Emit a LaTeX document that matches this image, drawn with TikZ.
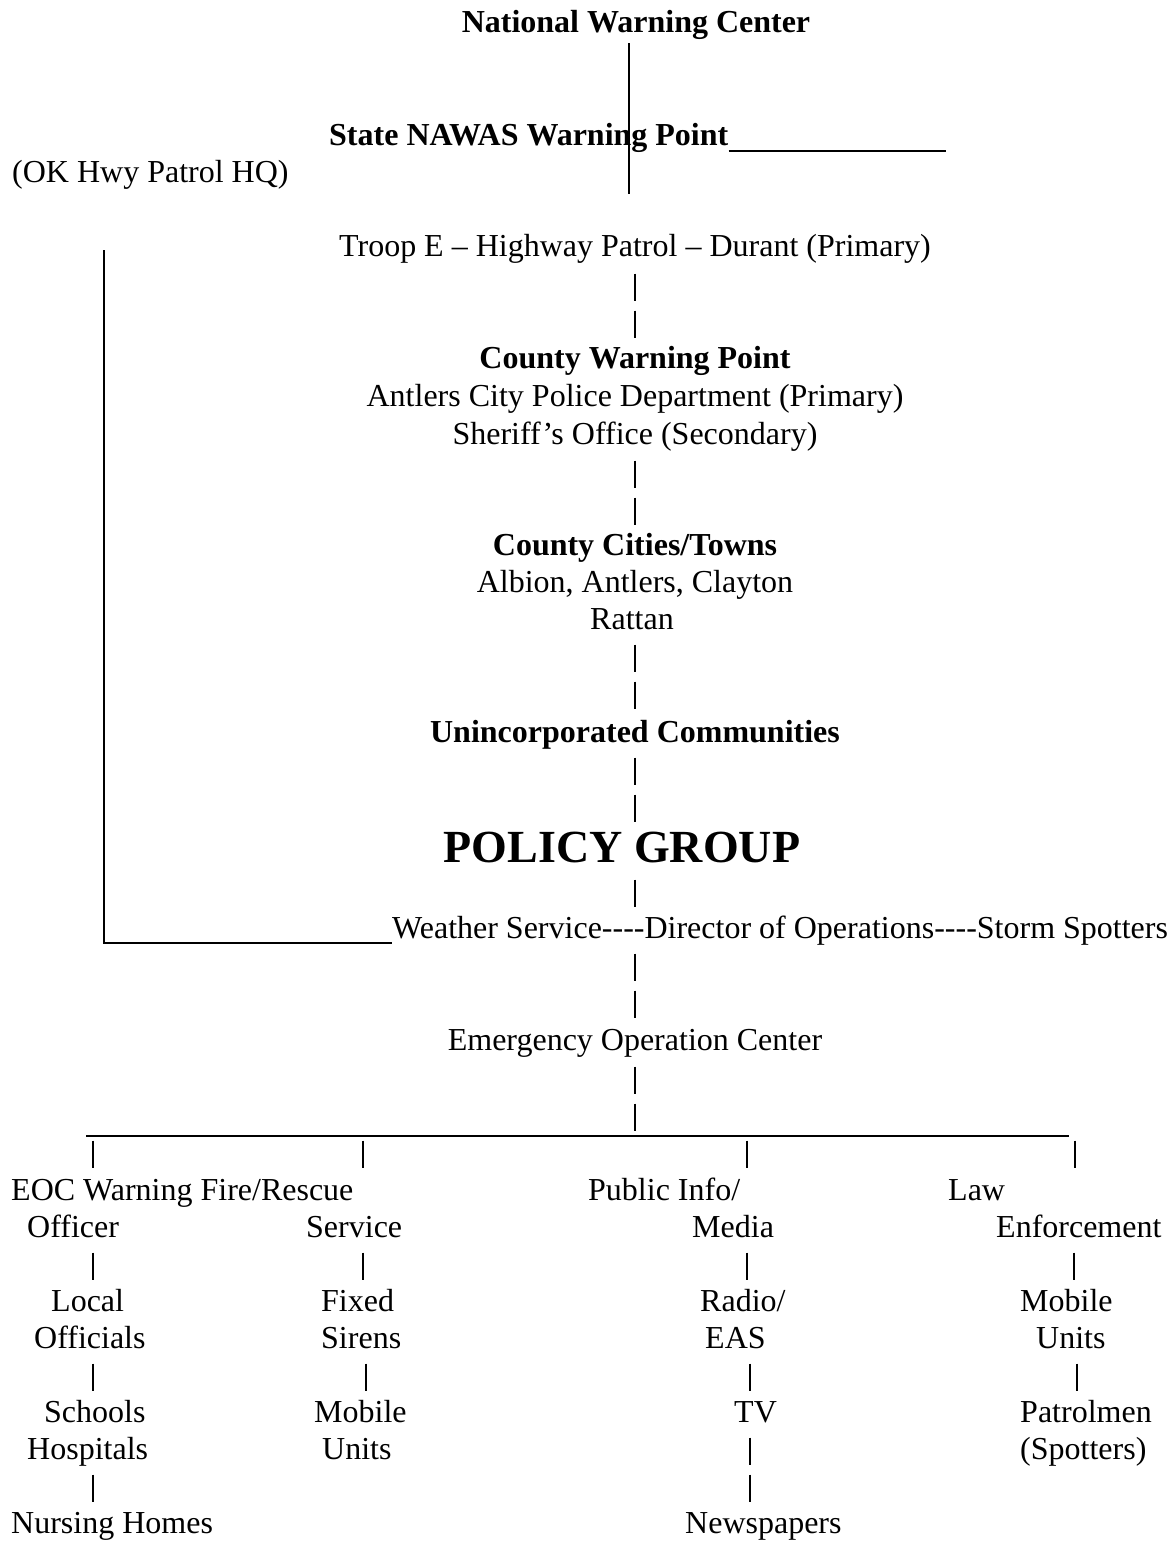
\documentclass[tikz,border=0pt]{standalone}
\usepackage{fontspec}
\setmainfont{Liberation Serif}
\newcommand\hy{\mbox{-}}
\tikzset{
  txt/.style={font=\fontsize{32}{37}\selectfont, inner sep=0pt, anchor=base},
  ltxt/.style={txt, anchor=base west},
  btxt/.style={font=\fontsize{32}{37}\selectfont\bfseries, inner sep=0pt, anchor=base},
  bigtxt/.style={font=\fontsize{46}{52}\selectfont\bfseries, inner sep=0pt, anchor=base},
  barline/.style={line width=1.1pt},
  rule/.style={line width=2pt},
}
\newcommand\vb[2]{\draw[barline] (#1,#2) ++(0,-13.5) -- ++(0,27);}
\begin{document}
\begin{tikzpicture}[x=1pt,y=-1pt]
\useasboundingbox (0,0) rectangle (1175,1545);
% top part
\node[btxt] (nwc) at (636,32) {National Warning Center};
\node[btxt, anchor=base west] (state) at (329,145) {State NAWAS Warning Point};
\coordinate (ul1) at (946,151);
\draw[rule] (state.base east) ++(0,6) -- (ul1);
\coordinate (vtop) at (629,43);
\coordinate (vbot) at (629,194);
\draw[line width=1.5pt] (vtop) -- (vbot);
\node[ltxt] (okhq) at (12,182) {(OK Hwy Patrol HQ)};
% centre column
\node[txt] (troop) at (635,256) {Troop E – Highway Patrol – Durant (Primary)};
\vb{635}{287}\vb{635}{324}
\node[btxt] (cwp) at (635,368) {County Warning Point};
\node[txt] (antlers) at (635,406) {Antlers City Police Department (Primary)};
\node[txt] (sheriff) at (635,444) {Sheriff’s Office (Secondary)};
\vb{635}{474}\vb{635}{511}
\node[btxt] (cct) at (635,555) {County Cities/Towns};
\node[txt] (towns) at (635,592) {Albion, Antlers, Clayton};
\node[txt] (rattan) at (632,629) {Rattan};
\vb{635}{658}\vb{635}{695}
\node[btxt] (uninc) at (635,742) {Unincorporated Communities};
\vb{635}{771}\vb{635}{808}
\node[bigtxt] (policy) at (622,862) {POLICY GROUP};
\vb{635}{893}
\node[ltxt] (weather) at (392,938) {Weather Service\hy\hy\hy\hy Director of Operations\hy\hy\hy\hy Storm Spotters};
\coordinate (ltop) at (104,250);
\coordinate (lbot) at (104,943);
\draw[rule] (ltop) -- (lbot) -- (weather.base west |- lbot);
\vb{635}{967}\vb{635}{1004}
\node[txt] (eoc) at (635,1050) {Emergency Operation Center};
\vb{635}{1080}\vb{635}{1117}
\coordinate (hl) at (86,1136);
\coordinate (hr) at (1069,1136);
\draw[rule] (hl) -- (hr);
% bottom
\vb{93}{1154}\vb{363}{1154}\vb{747}{1154}\vb{1075}{1154}
\node[ltxt] (eocw) at (11,1200) {EOC Warning Fire/Rescue};
\node[ltxt] (pub) at (588,1200) {Public Info/};
\node[ltxt] (law) at (948,1200) {Law};
\node[ltxt] (officer) at (27,1237) {Officer};
\node[ltxt] (service) at (306,1237) {Service};
\node[ltxt] (media) at (692,1237) {Media};
\node[ltxt] (enf) at (996,1237) {Enforcement};
\vb{93}{1266}\vb{363}{1266}\vb{747}{1266}\vb{1074}{1266}
\node[ltxt] (local) at (51,1311) {Local};
\node[ltxt] (fixed) at (321,1311) {Fixed};
\node[ltxt] (radio) at (700,1311) {Radio/};
\node[ltxt] (mob1) at (1020,1311) {Mobile};
\node[ltxt] (officials) at (34,1348) {Officials};
\node[ltxt] (sirens) at (321,1348) {Sirens};
\node[ltxt] (eas) at (705,1348) {EAS};
\node[ltxt] (units1) at (1036,1348) {Units};
\vb{93}{1377}\vb{366}{1377}\vb{750}{1377}\vb{1077}{1377}
\node[ltxt] (schools) at (44,1422) {Schools};
\node[ltxt] (mob2) at (314,1422) {Mobile};
\node[ltxt] (tv) at (734,1422) {TV};
\node[ltxt] (patrol) at (1020,1422) {Patrolmen};
\node[ltxt] (hosp) at (27,1459) {Hospitals};
\node[ltxt] (units2) at (322,1459) {Units};
\node[ltxt] (spotters) at (1020,1459) {(Spotters)};
\vb{750}{1451}
\vb{93}{1488}\vb{750}{1488}
\node[ltxt] (nursing) at (11,1533) {Nursing Homes};
\node[ltxt] (news) at (685,1533) {Newspapers};
\end{tikzpicture}
\end{document}
